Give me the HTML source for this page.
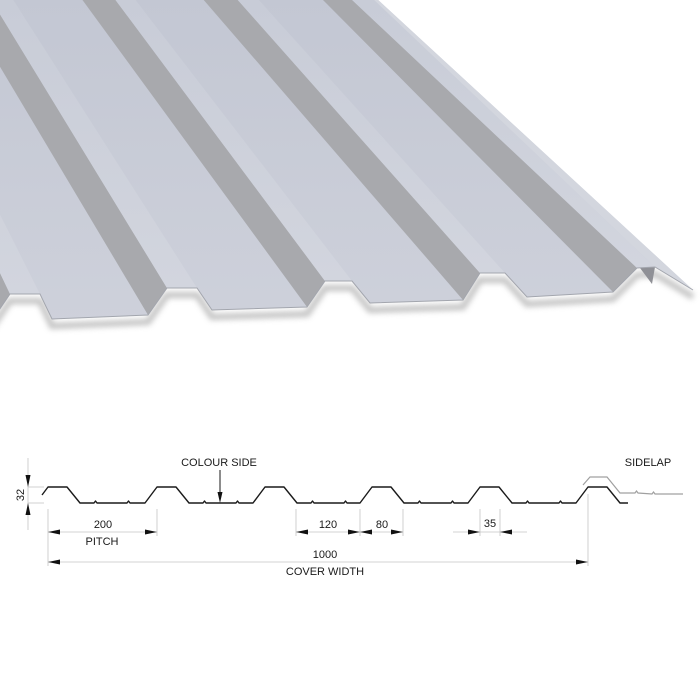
<!DOCTYPE html>
<html><head><meta charset="utf-8"><style>
html,body{margin:0;padding:0;background:#fff;}
svg{display:block;}
text{font-family:"Liberation Sans",Arial,sans-serif;font-size:11px;fill:#1a1a1a;}
</style></head><body>
<svg width="700" height="700" viewBox="0 0 700 700" xmlns="http://www.w3.org/2000/svg">
<defs>
<filter id="blur" x="-10%" y="-50%" width="120%" height="200%"><feGaussianBlur stdDeviation="3"/></filter>
<linearGradient id="tr" x1="0" y1="0" x2="0" y2="1">
<stop offset="0" stop-color="#c3c7d3"/><stop offset="1" stop-color="#ced1db"/></linearGradient>
<linearGradient id="cr" x1="0" y1="0" x2="0" y2="1">
<stop offset="0" stop-color="#c8ccd7"/><stop offset="1" stop-color="#d2d5de"/></linearGradient>
</defs>

<!-- shadow -->
<polyline filter="url(#blur)" fill="none" stroke="#9a9a9a" stroke-width="6" opacity="0.6"
 points="-9,329 10,301 40,301 52,326 148,322 167,295 197,295 212,317 307,314 325,288 352,288 370,310 463,307 480,280 505,280 527,304 613,299 637,275 655,274 693,297"/>

<!-- base (troughs) -->
<polygon fill="url(#tr)" points="-200,-2 376,-2 693,290 655,267 637,268 613,292 527,297 505,273 480,273 463,300 370,303 352,281 325,281 307,307 212,310 197,288 167,288 148,315 52,319 40,294 10,294 -9,322 -200,330"/>

<!-- dark up-slopes -->
<g fill="#a8a9ad">
<polygon points="-159,-2 -131,-2 10,294 -9,322"/>
<polygon points="-41,-2 -10,-2 167,288 148,315"/>
<polygon points="81,-2 114,-2 325,281 307,307"/>
<polygon points="202,-2 236,-2 480,273 463,300"/>
<polygon points="321,-2 350,-2 637,268 613,292"/>
</g>
<!-- crests -->
<g fill="url(#cr)">
<polygon points="-131,-2 -109,-2 40,294 10,294"/>
<polygon points="-10,-2 12,-2 197,288 167,288"/>
<polygon points="114,-2 134,-2 352,281 325,281"/>
<polygon points="236,-2 257,-2 505,273 480,273"/>
<polygon points="350,-2 372,-2 655,267 637,268"/>
</g>
<!-- lip -->
<polygon fill="#d3d6de" points="372,-2 376,-2 693,290 655,267"/>
<polygon fill="#8f9096" points="640,268 655,267 652,284"/>
<!-- front edge -->
<polyline fill="none" stroke="#a3a6ae" stroke-width="1"
 points="-9,322 10,294 40,294 52,319 148,315 167,288 197,288 212,310 307,307 325,281 352,281 370,303 463,300 480,273 505,273 527,297 613,292 637,268 655,267 693,290"/>

<!-- PROFILE -->
<path fill="none" stroke="#1a1a1a" stroke-width="1.4" stroke-linejoin="round"
d="M42,495 L48,487 L67,487 L80,503 L94,503 l1.5,-2 l1.5,2 L127,503 l1.5,-2 l1.5,2 L145,503 L157,487 L176,487 L189,503 L203,503 l1.5,-2 l1.5,2 L236,503 l1.5,-2 l1.5,2 L253,503 L265,487 L284,487 L297,503 L311,503 l1.5,-2 l1.5,2 L344,503 l1.5,-2 l1.5,2 L360,503 L372,487 L391,487 L404,503 L418,503 l1.5,-2 l1.5,2 L451,503 l1.5,-2 l1.5,2 L468,503 L480,487 L499,487 L512,503 L526,503 l1.5,-2 l1.5,2 L559,503 l1.5,-2 l1.5,2 L576,503 L588,487 L607,487 L620,503 L628,503"/>
<path fill="none" stroke="#a0a0a0" stroke-width="1.2"
d="M583,485 L590,477 L607,477 L620,493 L635,493 l1.5,-2 l1.5,2 L652,494 l1.5,-2 l1.5,2 L683,494"/>

<!-- dimension lines -->
<g stroke="#c4c4c4" stroke-width="0.8" fill="none">
<line x1="28" y1="458" x2="28" y2="530"/>
<line x1="28" y1="487" x2="44" y2="487"/>
<line x1="28" y1="503" x2="44" y2="503"/>
<line x1="48" y1="509" x2="48" y2="566"/>
<line x1="157" y1="509" x2="157" y2="536"/>
<line x1="48" y1="532" x2="157" y2="532"/>
<line x1="48" y1="562" x2="588" y2="562"/>
<line x1="588" y1="494" x2="588" y2="566"/>
<line x1="296" y1="509" x2="296" y2="536"/>
<line x1="360" y1="509" x2="360" y2="536"/>
<line x1="403" y1="509" x2="403" y2="536"/>
<line x1="296" y1="532" x2="403" y2="532"/>
<line x1="480" y1="509" x2="480" y2="536"/>
<line x1="500" y1="509" x2="500" y2="536"/>
<line x1="453" y1="532" x2="527" y2="532"/>
</g>
<line x1="220" y1="470" x2="220" y2="495" stroke="#1a1a1a" stroke-width="1"/>
<g fill="#111">
<polygon points="220,503 217.5,492 222.5,492"/>
<polygon points="28,487 25.5,475 30.5,475"/>
<polygon points="28,503 25.5,515 30.5,515"/>
<polygon points="48,532 60,529.5 60,534.5"/>
<polygon points="157,532 145,529.5 145,534.5"/>
<polygon points="48,562 60,559.5 60,564.5"/>
<polygon points="588,562 576,559.5 576,564.5"/>
<polygon points="296,532 308,529.5 308,534.5"/>
<polygon points="360,532 348,529.5 348,534.5"/>
<polygon points="360,532 372,529.5 372,534.5"/>
<polygon points="403,532 391,529.5 391,534.5"/>
<polygon points="480,532 468,529.5 468,534.5"/>
<polygon points="500,532 512,529.5 512,534.5"/>
</g>

<text x="219" y="466" text-anchor="middle">COLOUR SIDE</text>
<text x="648" y="466" text-anchor="middle">SIDELAP</text>
<text x="0" y="0" text-anchor="middle" transform="translate(24,495) rotate(-90)">32</text>
<text x="103" y="528" text-anchor="middle">200</text>
<text x="102" y="545" text-anchor="middle">PITCH</text>
<text x="328" y="528" text-anchor="middle">120</text>
<text x="382" y="528" text-anchor="middle">80</text>
<text x="490" y="527" text-anchor="middle">35</text>
<text x="325" y="558" text-anchor="middle">1000</text>
<text x="325" y="575" text-anchor="middle">COVER WIDTH</text>
</svg>
</body></html>
